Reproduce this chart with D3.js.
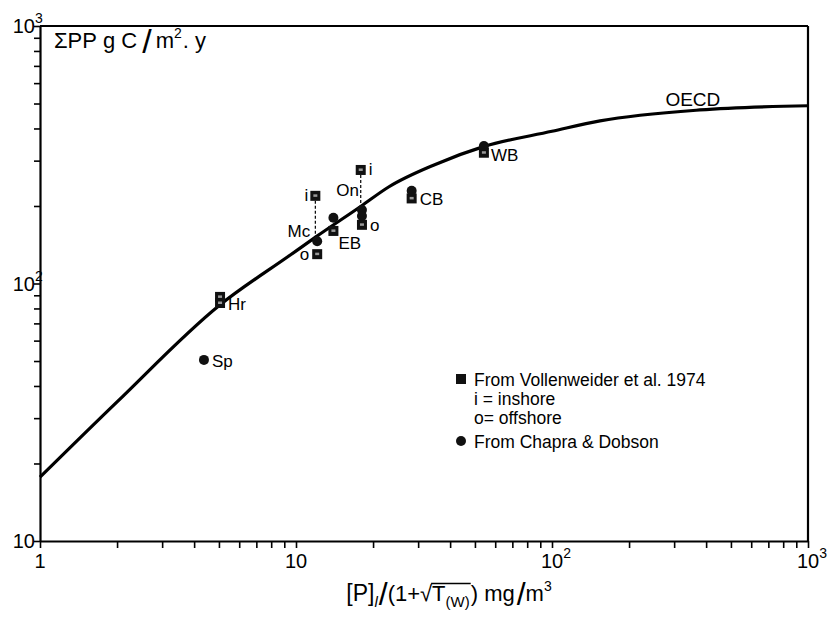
<!DOCTYPE html>
<html>
<head>
<meta charset="utf-8">
<script src="https://cdn.jsdelivr.net/npm/d3@7"></script>
<style>
body { margin: 0; background: #fff; }
text { font-family: "Liberation Sans", Arial, sans-serif; fill: #000; }
</style>
</head>
<body>
<svg id="chart" width="831" height="618"></svg>
<script>
// OECD relation
const curveX = [1, 2, 5, 9.5, 12, 18, 23, 35, 54, 100, 154, 378, 1000]
const curveY = [17.7, 34.7, 82, 129, 152, 200, 237, 290, 340, 390, 428, 472, 490]

// From Vollenweider et al. 1974 (squares)
const volName = ["Hr", "Hr", "Mc i", "Mc o", "EB", "On i", "On o", "CB", "WB"]
const volX = [5.05, 5.05, 11.9, 12.1, 14.0, 17.9, 18.1, 28.3, 54.2]
const volY = [88.7, 84, 219, 130, 160, 276, 169, 214, 322]

// From Chapra & Dobson (circles)
const chaName = ["Sp", "Mc", "EB", "On", "On", "CB", "WB"]
const chaX = [4.37, 12.1, 14.0, 18.1, 18.1, 28.3, 54.2]
const chaY = [50.5, 146, 180, 193, 183, 229, 342]

// dashed inshore links
const linkX = [11.9, 17.9]
const linkTop = [219, 276]
const linkBottom = [146, 193]

// point labels (text, anchored at a data point)
const labelText = ["Hr", "Sp", "Mc", "o", "i", "EB", "On", "i", "o", "CB", "WB", "OECD"]
const labelX = [5.05, 4.37, 12.1, 12.1, 11.9, 14.0, 18.1, 17.9, 18.1, 28.3, 54.2, 355]
const labelY = [84, 50.5, 146, 130, 219, 160, 193, 276, 169, 214, 322, 470]

const xTickLabels = ["1", "10", "10", "10"]
const xTickSups = ["", "", "2", "3"]
const yTickLabels = ["10", "10", "10"]
const yTickSups = ["", "2", "3"]

const svg = d3.select("#chart")
const mLeft = 40, mRight = 808, mTop = 26, mBottom = 541

let x = d3.scaleLog().domain([1, 1000]).range([mLeft, mRight])
let y = d3.scaleLog().domain([10, 1000]).range([mBottom, mTop])

let xTicks = [], yTicks = []
for (let d = 0; d < 3; d++) {
    for (let k = 1; k < 10; k++) xTicks.push(k * Math.pow(10, d))
}
xTicks.push(1000)
for (let d = 1; d < 3; d++) {
    for (let k = 1; k < 10; k++) yTicks.push(k * Math.pow(10, d))
}
yTicks.push(1000)

let xAxis = svg.append("g")
    .attr("transform", `translate(0,${mBottom})`)
    .call(d3.axisBottom(x).tickValues(xTicks).tickSize(7).tickSizeOuter(0).tickFormat(""))
let yAxis = svg.append("g")
    .attr("transform", `translate(${mLeft},0)`)
    .call(d3.axisLeft(y).tickValues(yTicks).tickSize(6).tickSizeOuter(0).tickFormat(""))
svg.selectAll(".domain").attr("stroke", "#000").attr("stroke-width", 2.2)
svg.selectAll(".tick line").attr("stroke", "#000").attr("stroke-width", 1.6)

// frame top and right
svg.append("line").attr("x1", mLeft).attr("x2", mRight).attr("y1", mTop).attr("y2", mTop)
    .attr("stroke", "#000").attr("stroke-width", 2.2)
svg.append("line").attr("x1", mRight).attr("x2", mRight).attr("y1", mTop).attr("y2", mBottom)
    .attr("stroke", "#000").attr("stroke-width", 2.2)

// tick labels
const decX = [1, 10, 100, 1000]
decX.forEach((v, i) => {
    let t = svg.append("text")
        .attr("x", x(v))
        .attr("y", mBottom + 27)
        .attr("font-size", 20)
        .attr("text-anchor", "middle")
        .text(xTickLabels[i])
    if (xTickSups[i]) {
        let w = t.node().getComputedTextLength()
        svg.append("text")
            .attr("x", x(v) + w / 2)
            .attr("y", mBottom + 17)
            .attr("font-size", 14)
            .text(xTickSups[i])
    }
})
const decY = [10, 100, 1000]
decY.forEach((v, i) => {
    svg.append("text")
        .attr("x", 35)
        .attr("y", y(v) + 7)
        .attr("font-size", 20)
        .attr("text-anchor", "end")
        .text(yTickLabels[i])
    if (yTickSups[i]) {
        svg.append("text")
            .attr("x", 35)
            .attr("y", y(v) - 3)
            .attr("font-size", 14)
            .text(yTickSups[i])
    }
})

// lay text pieces side by side
function richText(pieces, px, py, anchor) {
    let g = svg.append("g")
    let cx = 0
    pieces.forEach(p => {
        let t = g.append("text")
            .attr("x", cx)
            .attr("y", p.dy || 0)
            .attr("font-size", p.size)
            .text(p.t)
        if (p.italic) t.attr("font-style", "italic")
        p.x0 = cx
        p.w = t.node().getComputedTextLength()
        cx += p.w + (p.gap || 0)
    })
    let off = anchor == "middle" ? -cx / 2 : 0
    g.attr("transform", `translate(${px + off},${py})`)
    return { g: g, pieces: pieces }
}

// y title
richText([
    { t: "ΣPP", size: 22, gap: 6 },
    { t: "g C", size: 22, gap: 5 },
    { t: "/", size: 34, dy: 5, gap: 4 },
    { t: "m", size: 22 },
    { t: "2", size: 14, dy: -10, gap: 1 },
    { t: ". y", size: 22 }
], 54, 48, "start")

// x title
let xl = richText([
    { t: "[P]", size: 23 },
    { t: "l", size: 15, dy: 6, italic: true, gap: 1 },
    { t: "/", size: 32, dy: 4 },
    { t: "(1+√", size: 22 },
    { t: "T", size: 22 },
    { t: "(W)", size: 15, dy: 6, gap: 1 },
    { t: ")  mg", size: 22, gap: 2 },
    { t: "/", size: 32, dy: 4 },
    { t: "m", size: 22 },
    { t: "3", size: 14, dy: -10 }
], 449, 601, "middle")
let tp = xl.pieces[4], wp = xl.pieces[5]
xl.g.append("line")
    .attr("x1", tp.x0 - 1).attr("x2", wp.x0 + wp.w + 1)
    .attr("y1", -17.5).attr("y2", -17.5)
    .attr("stroke", "#000").attr("stroke-width", 1.5)

// OECD curve
let line = d3.line()
    .x((d, i) => x(curveX[i]))
    .y(d => y(d))
    .curve(d3.curveMonotoneX)
svg.append("path")
    .attr("d", line(curveY))
    .attr("fill", "none")
    .attr("stroke", "#000")
    .attr("stroke-width", 3.2)

// dashed inshore-offshore links
svg.append("g")
    .selectAll("line")
    .data(linkX)
    .enter()
    .append("line")
    .attr("x1", d => x(d))
    .attr("x2", d => x(d))
    .attr("y1", (d, i) => y(linkTop[i]))
    .attr("y2", (d, i) => y(linkBottom[i]))
    .attr("stroke", "#000")
    .attr("stroke-width", 1.2)
    .attr("stroke-dasharray", "3,2")

// squares
let sq = svg.append("g")
    .selectAll("g")
    .data(volX)
    .enter()
    .append("g")
    .attr("transform", (d, i) => `translate(${x(d)},${y(volY[i])})`)
sq.append("rect")
    .attr("x", -5).attr("y", -5)
    .attr("width", 10).attr("height", 10)
    .attr("fill", "#111")
sq.append("rect")
    .attr("x", -2).attr("y", -1.5)
    .attr("width", 4).attr("height", 2.5)
    .attr("fill", "#999")

// circles
svg.append("g")
    .selectAll("circle")
    .data(chaX)
    .enter()
    .append("circle")
    .attr("cx", d => x(d))
    .attr("cy", (d, i) => y(chaY[i]))
    .attr("r", 5)
    .attr("fill", "#111")

// point labels
const labelDx = [8, 8, -7, -8, -7, 5, -3, 8, 8, 8, 7, 0]
const labelDy = [7, 7, -4, 6, 5, 18, -14, 5, 6, 7, 8, -4]
const labelAnchor = ["start", "start", "end", "end", "end", "start", "end", "start", "start", "start", "start", "middle"]
svg.append("g")
    .selectAll("text")
    .data(labelText)
    .enter()
    .append("text")
    .attr("x", (d, i) => x(labelX[i]) + labelDx[i])
    .attr("y", (d, i) => y(labelY[i]) + labelDy[i])
    .attr("text-anchor", (d, i) => labelAnchor[i])
    .attr("font-size", (d, i) => d == "OECD" ? 19 : 17)
    .text(d => d)

// legend
let lg = svg.append("g").attr("transform", "translate(461,0)")
lg.append("rect").attr("x", -5).attr("y", 374).attr("width", 10).attr("height", 10).attr("fill", "#111")
lg.append("circle").attr("cx", 0).attr("cy", 441).attr("r", 5).attr("fill", "#111")
const legendLines = ["From Vollenweider et al. 1974", "i = inshore", "o= offshore", "From Chapra & Dobson"]
const legendY = [386, 405, 424, 448]
lg.selectAll("text.leg")
    .data(legendLines)
    .enter()
    .append("text")
    .attr("class", "leg")
    .attr("x", 13)
    .attr("y", (d, i) => legendY[i])
    .attr("font-size", 17.5)
    .text(d => d)
</script>
</body>
</html>
